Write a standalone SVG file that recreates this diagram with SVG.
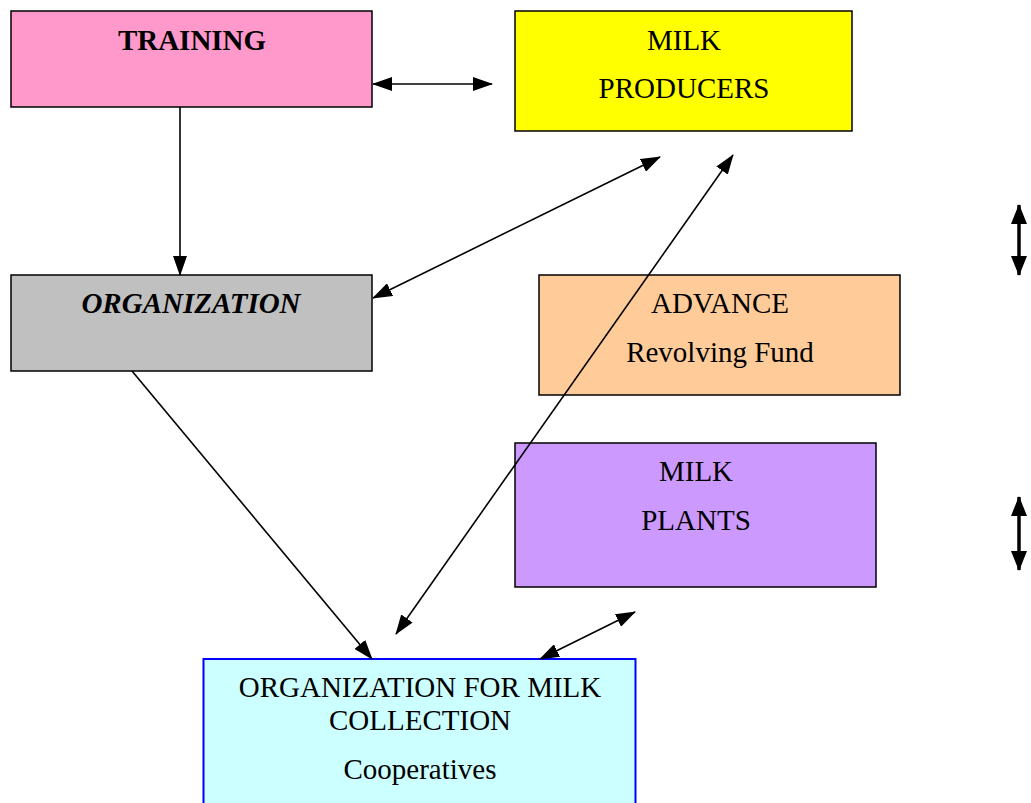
<svg xmlns="http://www.w3.org/2000/svg" width="1031" height="803" viewBox="0 0 1031 803">
<defs>
<marker id="ah" viewBox="0 0 20 14" refX="19" refY="7" markerWidth="20" markerHeight="14" markerUnits="userSpaceOnUse" orient="auto-start-reverse">
<path d="M0,0 L20,7 L0,14 Z" fill="#000"/>
</marker>
<marker id="ahb" viewBox="0 0 20 16" refX="19" refY="8" markerWidth="20" markerHeight="16" markerUnits="userSpaceOnUse" orient="auto-start-reverse">
<path d="M0,0 L20,8 L0,16 Z" fill="#000"/>
</marker>
<style>
.box{stroke:#000;stroke-width:1.5}
.t{font-family:"Liberation Serif","Times New Roman",serif;font-size:29px;fill:#000;text-anchor:middle}
.c{stroke:#000;stroke-width:1.6;fill:none}
.cb{stroke:#000;stroke-width:3.5;fill:none}
</style>
</defs>
<rect width="1031" height="803" fill="#fff"/>
<g id="training">
<rect class="box" x="11" y="11" width="361" height="96" fill="#FF99CC"/>
<text class="t" x="192" y="50" font-weight="bold">TRAINING</text>
</g>
<g id="milk-producers">
<rect class="box" x="515" y="11" width="337" height="120" fill="#FFFF00"/>
<text class="t" x="684" y="50">MILK</text>
<text class="t" x="684" y="98">PRODUCERS</text>
</g>
<g id="organization">
<rect class="box" x="11" y="275" width="361" height="96" fill="#C0C0C0"/>
<text class="t" x="191" y="313" font-weight="bold" font-style="italic">ORGANIZATION</text>
</g>
<g id="advance">
<rect class="box" x="539" y="275" width="361" height="120" fill="#FFCC99"/>
<text class="t" x="720" y="313">ADVANCE</text>
<text class="t" x="720" y="362">Revolving Fund</text>
</g>
<g id="milk-plants">
<rect class="box" x="515" y="443" width="361" height="144" fill="#CC99FF"/>
<text class="t" x="696" y="481">MILK</text>
<text class="t" x="696" y="530">PLANTS</text>
</g>
<g id="collection">
<rect x="203.5" y="659" width="432" height="150" fill="#CCFFFF" stroke="#0000FF" stroke-width="2"/>
<text class="t" x="420" y="697">ORGANIZATION FOR MILK</text>
<text class="t" x="420" y="730">COLLECTION</text>
<text class="t" x="420" y="779">Cooperatives</text>
</g>
<g id="connectors">
<line class="c" x1="373" y1="84" x2="492" y2="84" marker-start="url(#ah)" marker-end="url(#ah)"/>
<line class="c" x1="180" y1="107" x2="180" y2="275" marker-end="url(#ah)"/>
<line class="c" x1="373" y1="298" x2="660" y2="157" marker-start="url(#ah)" marker-end="url(#ah)"/>
<line class="c" x1="396" y1="634" x2="733" y2="155" marker-start="url(#ah)" marker-end="url(#ah)"/>
<line class="c" x1="132" y1="371" x2="372" y2="659" marker-end="url(#ah)"/>
<line class="c" x1="540" y1="659" x2="635" y2="612" marker-start="url(#ah)" marker-end="url(#ah)"/>
<line class="cb" x1="1019" y1="205" x2="1019" y2="275" marker-start="url(#ahb)" marker-end="url(#ahb)"/>
<line class="cb" x1="1019" y1="497" x2="1019" y2="570" marker-start="url(#ahb)" marker-end="url(#ahb)"/>
</g>
</svg>
